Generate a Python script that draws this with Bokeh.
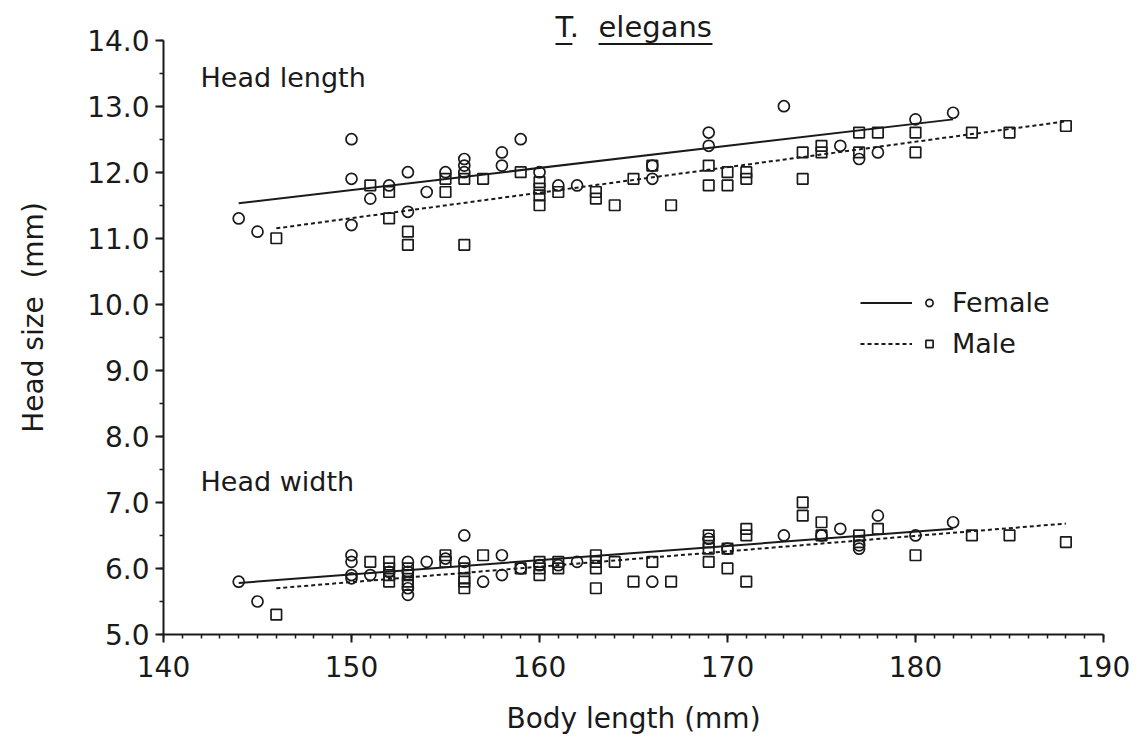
from bokeh.plotting import figure
from bokeh.models import (Range1d, FixedTicker, NumeralTickFormatter, Label,
                          BoxAnnotation, Legend, LegendItem)
from bokeh.embed import file_html
from bokeh.resources import INLINE

FONT = "DejaVu Sans"
INK = "#1a1a1a"

# ---------------- data ----------------
# Head length, females (circles)
hl_f_x = [144, 145, 150, 150, 150, 151, 152, 153, 153, 154, 155, 156, 156, 156,
          158, 158, 159, 160, 161, 162, 166, 166, 169, 169, 173, 176, 177, 178, 180, 182]
hl_f_y = [11.3, 11.1, 12.5, 11.9, 11.2, 11.6, 11.8, 12.0, 11.4, 11.7, 12.0, 12.2, 12.1, 12.0,
          12.3, 12.1, 12.5, 12.0, 11.8, 11.8, 12.1, 11.9, 12.6, 12.4, 13.0, 12.4, 12.2, 12.3, 12.8, 12.9]
# Head length, males (squares)
hl_m_x = [146, 151, 152, 152, 153, 153, 155, 155, 156, 156, 157, 159, 160, 160, 160, 160,
          161, 163, 163, 164, 165, 166, 167, 169, 169, 170, 170, 171, 171, 174, 174,
          175, 175, 177, 177, 178, 180, 180, 183, 185, 188]
hl_m_y = [11.0, 11.8, 11.7, 11.3, 11.1, 10.9, 11.9, 11.7, 11.9, 10.9, 11.9, 12.0, 11.85, 11.75, 11.65, 11.5,
          11.7, 11.7, 11.6, 11.5, 11.9, 12.1, 11.5, 12.1, 11.8, 12.0, 11.8, 12.0, 11.9, 12.3, 11.9,
          12.4, 12.3, 12.6, 12.3, 12.6, 12.6, 12.3, 12.6, 12.6, 12.7]
# Head width, females (circles)
hw_f_x = [144, 145, 150, 150, 150, 150, 151, 152, 153, 153, 153, 153, 154, 155, 156, 156,
          157, 158, 158, 159, 160, 161, 162, 166, 169, 170, 173, 175, 176, 177, 177, 178, 180, 182]
hw_f_y = [5.8, 5.5, 6.2, 6.1, 5.9, 5.85, 5.9, 5.95, 6.1, 5.95, 5.7, 5.6, 6.1, 6.15, 6.5, 6.1,
          5.8, 6.2, 5.9, 6.0, 6.05, 6.05, 6.1, 5.8, 6.45, 6.3, 6.5, 6.5, 6.6, 6.35, 6.3, 6.8, 6.5, 6.7]
# Head width, males (squares)
hw_m_x = [146, 151, 152, 152, 152, 152, 153, 153, 153, 153, 155, 155, 156, 156, 156, 156,
          157, 159, 160, 160, 160, 161, 161, 163, 163, 163, 163, 164, 165, 166, 167,
          169, 169, 169, 169, 170, 170, 171, 171, 171, 174, 174, 175, 175, 177, 177, 178,
          180, 183, 185, 188]
hw_m_y = [5.3, 6.1, 6.1, 6.0, 5.9, 5.8, 6.0, 5.9, 5.8, 5.75, 6.2, 6.1, 6.0, 5.85, 5.8, 5.7,
          6.2, 6.0, 6.1, 6.0, 5.9, 6.1, 6.0, 6.2, 6.1, 6.0, 5.7, 6.1, 5.8, 6.1, 5.8,
          6.5, 6.4, 6.3, 6.1, 6.3, 6.0, 6.6, 6.5, 5.8, 7.0, 6.8, 6.7, 6.5, 6.5, 6.4, 6.6,
          6.2, 6.5, 6.5, 6.4]

# fitted regression lines (end points)
fit_f_x = [144, 182]
fit_m_x = [146, 188]
hl_fit_f_y = [11.53, 12.80]
hl_fit_m_y = [11.15, 12.77]
hw_fit_f_y = [5.78, 6.60]
hw_fit_m_y = [5.70, 6.68]

x_major = [140, 150, 160, 170, 180, 190]
x_minor = list(range(140, 191))
y_major = [5, 6, 7, 8, 9, 10, 11, 12, 13, 14]
y_minor = [5 + 0.5 * i for i in range(19)]

# ---------------- figure ----------------
p = figure(width=1148, height=738, output_backend="svg", toolbar_location=None,
           x_range=Range1d(140, 190), y_range=Range1d(5, 14.6),
           min_border_left=163, min_border_right=45, min_border_top=0, min_border_bottom=104)
p.outline_line_color = None
p.grid.visible = False
p.background_fill_color = "white"
p.border_fill_color = "white"

for ax in (p.xaxis[0], p.yaxis[0]):
    ax.axis_line_color = INK
    ax.axis_line_width = 2
    ax.major_tick_line_color = INK
    ax.major_tick_line_width = 2
    ax.minor_tick_line_color = INK
    ax.minor_tick_line_width = 1.5
    ax.major_tick_in = 0
    ax.major_tick_out = 8
    ax.minor_tick_in = 0
    ax.minor_tick_out = 4
    ax.major_label_text_font = FONT
    ax.major_label_text_font_size = "28px"
    ax.major_label_text_color = INK
    ax.axis_label_text_font = FONT
    ax.axis_label_text_font_size = "28px"
    ax.axis_label_text_font_style = "normal"
    ax.axis_label_text_color = INK

p.xaxis.ticker = FixedTicker(ticks=x_major, minor_ticks=x_minor)
p.yaxis.ticker = FixedTicker(ticks=y_major, minor_ticks=y_minor)
p.yaxis.bounds = (5, 14)
p.yaxis.formatter = NumeralTickFormatter(format="0.0")
p.xaxis.axis_label = "Body length (mm)"
p.yaxis.axis_label = "Head size\u00a0\u00a0(mm)"
p.xaxis.major_label_standoff = 13
p.xaxis.axis_label_standoff = 22
p.yaxis.major_label_standoff = 6
p.yaxis.axis_label_standoff = 34

mk = dict(fill_alpha=0, line_color=INK, line_width=1.7)
f1 = p.scatter(hl_f_x, hl_f_y, marker="circle", size=11, **mk)
m1 = p.scatter(hl_m_x, hl_m_y, marker="square", size=10.5, **mk)
p.scatter(hw_f_x, hw_f_y, marker="circle", size=11, **mk)
p.scatter(hw_m_x, hw_m_y, marker="square", size=10.5, **mk)

lf = p.line(fit_f_x, hl_fit_f_y, line_color=INK, line_width=2)
lm = p.line(fit_m_x, hl_fit_m_y, line_color=INK, line_width=2, line_dash="4 3")
p.line(fit_f_x, hw_fit_f_y, line_color=INK, line_width=2)
p.line(fit_m_x, hw_fit_m_y, line_color=INK, line_width=2, line_dash="4 3")

# panel labels
for txt, yy in (("Head length", 13.44), ("Head width", 7.32)):
    p.add_layout(Label(x=141.97, y=yy, text=txt, text_font=FONT, text_font_size="27px",
                       text_color=INK, text_baseline="alphabetic", text_align="left"))

# title with underlines
p.add_layout(Label(x=160.85, y=14.2, text="T.", text_font=FONT, text_font_size="29px",
                   text_color=INK, text_baseline="alphabetic", text_align="left"))
p.add_layout(Label(x=163.14, y=14.2, text="elegans", text_font=FONT, text_font_size="29px",
                   text_color=INK, text_baseline="alphabetic", text_align="left"))
p.add_layout(BoxAnnotation(left=160.85, right=161.75, top=13.957, bottom=13.927,
                           fill_color=INK, fill_alpha=1, line_alpha=0))
p.add_layout(BoxAnnotation(left=163.14, right=169.2, top=13.957, bottom=13.927,
                           fill_color=INK, fill_alpha=1, line_alpha=0))

# legend: line samples, then marker samples with labels
leg_common = dict(border_line_alpha=0, background_fill_alpha=0, padding=0, margin=0,
                  spacing=10, label_height=31, glyph_height=31,
                  label_text_font=FONT, label_text_font_size="27px", label_text_color=INK,
                  orientation="vertical")
legA = Legend(items=[LegendItem(label=" ", renderers=[lf]), LegendItem(label=" ", renderers=[lm])],
              location=(697, 275), glyph_width=52, label_standoff=0, **leg_common)
legB = Legend(items=[LegendItem(label="Female", renderers=[f1]), LegendItem(label="Male", renderers=[m1])],
              location=(757, 275), glyph_width=18, label_standoff=14, **leg_common)
p.add_layout(legA)
p.add_layout(legB)

open("out.html", "w").write(file_html(p, INLINE))
